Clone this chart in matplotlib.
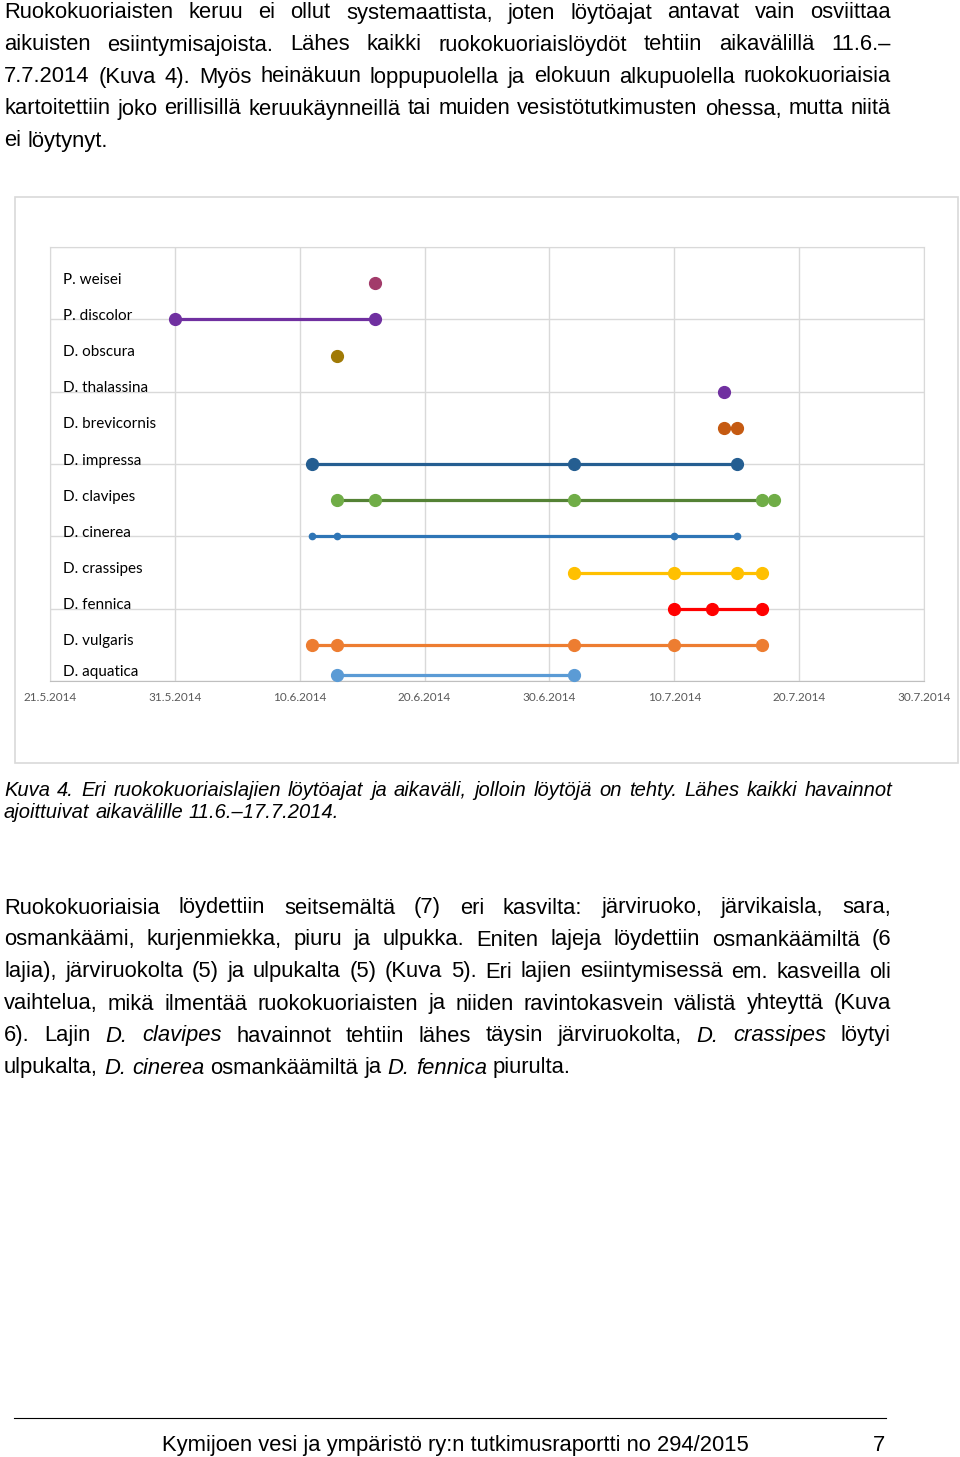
import matplotlib
matplotlib.use('Agg')
import matplotlib.pyplot as plt
import matplotlib.dates as mdates
from matplotlib.patches import Rectangle
from matplotlib.lines import Line2D
from datetime import date, timedelta

plt.rcParams['font.family'] = ['Liberation Sans', 'DejaVu Sans']

W, H = 960, 1457

# --- chart data (finding dates, d.m. 2014) ---
species = ['P. weisei', 'P. discolor', 'D. obscura', 'D. thalassina', 'D. brevicornis',
           'D. impressa', 'D. clavipes', 'D. cinerea', 'D. crassipes', 'D. fennica',
           'D. vulgaris', 'D. aquatica']
rows = [5.5, 5.0, 4.5, 4.0, 3.5, 3.0, 2.5, 2.0, 1.5, 1.0, 0.5, 0.08]
finds = [
    ['16.6'],
    ['31.5', '16.6'],
    ['13.6'],
    ['14.7'],
    ['14.7', '15.7'],
    ['11.6', '2.7', '15.7'],
    ['13.6', '16.6', '2.7', '17.7', '18.7'],
    ['11.6', '13.6', '10.7', '15.7'],
    ['2.7', '10.7', '15.7', '17.7'],
    ['10.7', '13.7', '17.7'],
    ['11.6', '13.6', '2.7', '10.7', '17.7'],
    ['13.6', '2.7'],
]
line_colors = ['#7030A0', '#7030A0', '#997300', '#7030A0', '#C55A11', '#255E91',
               '#548235', '#2E75B6', '#FFC000', '#FF0000', '#ED7D31', '#5B9BD5']
marker_colors = ['#A23B6A', '#7030A0', '#A07A06', '#7030A0', '#C55A11', '#255E91',
                 '#70AD47', '#2E75B6', '#FFC000', '#FF0000', '#ED7D31', '#5B9BD5']
marker_sizes = [8.5, 8.5, 8.5, 8.5, 8.5, 8.5, 8.5, 4.5, 8.5, 8.5, 8.5, 8.5]
x_start, x_end = date(2014, 5, 21), date(2014, 7, 30)


def to_date(s):
    d, m = s.split('.')
    return date(2014, int(m), int(d))


fig = plt.figure(figsize=(W / 100, H / 100), dpi=100)

# chart frame
fig.patches.append(Rectangle((15 / W, 1 - 763 / H), (958 - 15) / W, (763 - 197) / H,
                             transform=fig.transFigure, fill=False, ec='#D9D9D9', lw=1.2))

ax = fig.add_axes([50 / W, 1 - 681 / H, (924 - 50) / W, (681 - 247) / H])
for name, row, ds, lc, mc, ms in zip(species, rows, finds, line_colors, marker_colors, marker_sizes):
    xs = [to_date(s) for s in ds]
    ax.plot(xs, [row] * len(xs), '-o', color=lc, lw=2.3, ms=ms, mfc=mc, mec=mc,
            zorder=3, clip_on=False)
    ax.annotate(name, xy=(0.015, row), xycoords=('axes fraction', 'data'),
                xytext=(0, 2.5), textcoords='offset points', va='center', ha='left',
                fontsize=11, family=['Lato', 'DejaVu Sans'], color='#000000')

ax.set_xlim(x_start, x_end)
ax.set_ylim(0, 6)
ax.set_yticks(range(7))
ax.set_yticklabels([])
ticks = [x_start + timedelta(days=10 * i) for i in range(8)]
ax.set_xticks(ticks)
ax.set_xticklabels([f'{d.day}.{d.month}.{d.year}' for d in ticks])
ax.tick_params(length=0, labelsize=8.5, labelcolor='#595959', pad=8)
for lab in ax.get_xticklabels():
    lab.set_family(['Lato', 'DejaVu Sans'])
ax.grid(color='#D9D9D9', lw=1)
for sp in ax.spines.values():
    sp.set_color('#D9D9D9')
ax.spines['bottom'].set_color('#BFBFBF')
ax.set_axisbelow(True)

# --- page text ---
renderer = fig.canvas.get_renderer()


def width(s, **kw):
    t = fig.text(0, 0, s, **kw)
    w = t.get_window_extent(renderer).width
    t.remove()
    return w


def put_line(line, baseline, size, justify, italic_all=False, x0=4, x1=891):
    words = []
    for w in line.split(' '):
        it = italic_all
        if w.startswith('*') and w.endswith('*'):
            w, it = w[1:-1], True
        words.append((w, 'italic' if it else 'normal'))
    widths = [width(w, fontsize=size, style=st) for w, st in words]
    if justify and len(words) > 1:
        gap = (x1 - x0 - sum(widths)) / (len(words) - 1)
    else:
        gap = width('a a', fontsize=size) - width('aa', fontsize=size)
    x = x0
    for (w, st), wd in zip(words, widths):
        fig.text(x / W, 1 - baseline / H, w, fontsize=size, style=st,
                 ha='left', va='baseline', color='black')
        x += wd + gap


para1 = [
    'Ruokokuoriaisten keruu ei ollut systemaattista, joten löytöajat antavat vain osviittaa',
    'aikuisten esiintymisajoista. Lähes kaikki ruokokuoriaislöydöt tehtiin aikavälillä 11.6.–',
    '7.7.2014 (Kuva 4). Myös heinäkuun loppupuolella ja elokuun alkupuolella ruokokuoriaisia',
    'kartoitettiin joko erillisillä keruukäynneillä tai muiden vesistötutkimusten ohessa, mutta niitä',
    'ei löytynyt.',
]
caption = [
    'Kuva 4. Eri ruokokuoriaislajien löytöajat ja aikaväli, jolloin löytöjä on tehty. Lähes kaikki havainnot',
    'ajoittuivat aikavälille 11.6.–17.7.2014.',
]
para2 = [
    'Ruokokuoriaisia löydettiin seitsemältä (7) eri kasvilta: järviruoko, järvikaisla, sara,',
    'osmankäämi, kurjenmiekka, piuru ja ulpukka. Eniten lajeja löydettiin osmankäämiltä (6',
    'lajia), järviruokolta (5) ja ulpukalta (5) (Kuva 5). Eri lajien esiintymisessä em. kasveilla oli',
    'vaihtelua, mikä ilmentää ruokokuoriaisten ja niiden ravintokasvein välistä yhteyttä (Kuva',
    '6). Lajin *D.* *clavipes* havainnot tehtiin lähes täysin järviruokolta, *D.* *crassipes* löytyi',
    'ulpukalta, *D.* *cinerea* osmankäämiltä ja *D.* *fennica* piurulta.',
]

body_size = 15.85
for i, ln in enumerate(para1):
    put_line(ln, 18.5 + 32 * i, body_size, i < len(para1) - 1)
for i, ln in enumerate(caption):
    put_line(ln, 795.5 + 22 * i, 14.5, i < len(caption) - 1, italic_all=True, x1=892)
for i, ln in enumerate(para2):
    put_line(ln, 913.5 + 32 * i, body_size, i < len(para2) - 1)

# footer
fig.add_artist(Line2D([14 / W, 886 / W], [1 - 1417.5 / H] * 2, color='black', lw=0.8))
fig.text(162 / W, 1 - 1451 / H, 'Kymijoen vesi ja ympäristö ry:n tutkimusraportti no 294/2015',
         fontsize=15.85, ha='left', va='baseline')
fig.text(885 / W, 1 - 1451 / H, '7', fontsize=15.85, ha='right', va='baseline')

fig.savefig('out.png', dpi=100, facecolor='white')
